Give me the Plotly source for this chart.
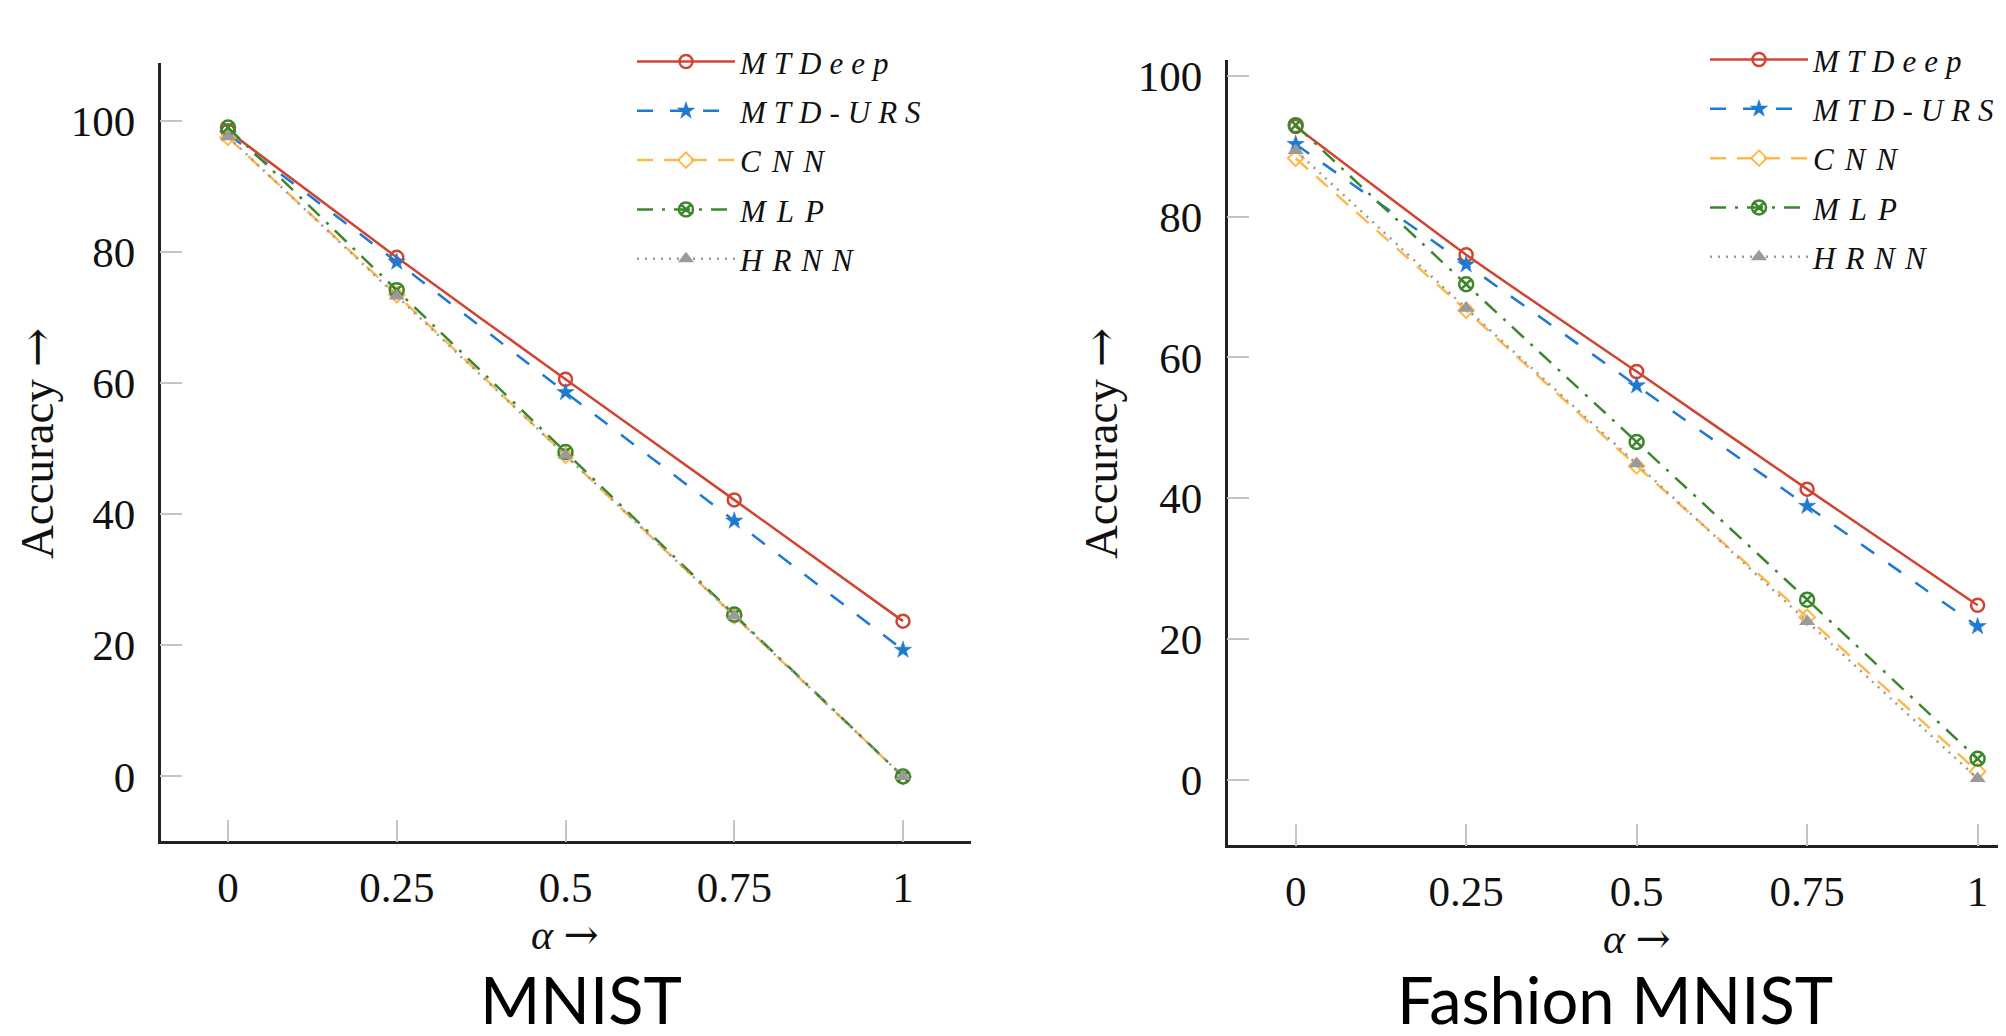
import plotly.graph_objects as go

# ---------------- data ----------------
alpha = [0, 0.25, 0.5, 0.75, 1]
x_tick_vals = [0, 0.25, 0.5, 0.75, 1]
x_tick_text = ["0", "0.25", "0.5", "0.75", "1"]
y_tick_vals = [0, 20, 40, 60, 80, 100]
y_tick_text = ["0", "20", "40", "60", "80", "100"]

series_names = ["MTDeep", "MTD-URS", "CNN", "MLP", "HRNN"]

# MNIST
mnist_mtdeep = [98.5, 79.2, 60.6, 42.2, 23.7]
mnist_mtdurs = [98.0, 78.5, 58.6, 39.0, 19.3]
mnist_cnn = [97.5, 73.5, 49.0, 24.5, 0.0]
mnist_mlp = [99.0, 74.2, 49.5, 24.7, 0.0]
mnist_hrnn = [97.6, 73.3, 49.0, 24.5, 0.0]

# Fashion MNIST
fashion_mtdeep = [92.8, 74.6, 58.0, 41.3, 24.8]
fashion_mtdurs = [90.3, 73.2, 56.0, 38.9, 21.8]
fashion_cnn = [88.3, 66.7, 44.6, 23.1, 1.2]
fashion_mlp = [93.0, 70.4, 48.0, 25.6, 3.0]
fashion_hrnn = [89.4, 67.0, 44.9, 22.5, 0.2]

panel_titles = ["MNIST", "Fashion MNIST"]
ARROW = '<span style="font-family:DejaVu Serif">→</span>'
x_title = "<i>α</i> " + ARROW
y_title = "Accuracy " + ARROW

# ---------------- styles ----------------
colors = ["#d24432", "#1f78d1", "#ffb84a", "#3c872d", "#9a9a9a"]
dashes = ["solid", "16px,17px", "16px,11px", "16px,9px,3px,9px", "2px,6px"]
symbols = ["circle-open", "star", "diamond-open", "circle-x-open", "triangle-up"]
msizes = [13, 13, 12, 14, 14]
mlw = [2.5, 0.5, 2, 2.5, 0]
spacing = [8, 8, 11, 11, 10]

W, H = 2006, 1036
SERIF = "Liberation Serif, Times New Roman, serif"

fig = go.Figure()

panels = [
    ([mnist_mtdeep, mnist_mtdurs, mnist_cnn, mnist_mlp, mnist_hrnn], "x", "y", "legend"),
    ([fashion_mtdeep, fashion_mtdurs, fashion_cnn, fashion_mlp, fashion_hrnn], "x2", "y2", "legend2"),
]

for pi, (data, xa, ya, leg) in enumerate(panels):
    for i, (name, vals) in enumerate(zip(series_names, data)):
        fig.add_trace(go.Scatter(
            x=alpha, y=vals, xaxis=xa, yaxis=ya,
            mode="lines+markers",
            name='<span style="letter-spacing:%dpx">%s</span>' % (spacing[i], name),
            legend=leg,
            legendgroup="%s_%d" % (leg, i),
            line=dict(color=colors[i], width=2.5, dash=dashes[i], shape="spline", smoothing=0.6),
            marker=dict(symbol=symbols[i], size=msizes[i], color=colors[i],
                        line=dict(color=colors[i], width=mlw[i])),
            hoverinfo="skip",
        ))

def px_x(p):
    return p / W

def px_y(p):
    return 1 - p / H

axis_common = dict(
    showline=True, linecolor="#222222", linewidth=2.5, mirror=False,
    showgrid=False, zeroline=False,
    ticks="inside", ticklen=22, tickwidth=1.5, tickcolor="#c4c4c4",
    tickfont=dict(family=SERIF, size=43, color="#111111"),
)

legend_common = dict(
    xanchor="left", yanchor="top",
    bgcolor="rgba(0,0,0,0)", borderwidth=0, itemwidth=98, tracegroupgap=6,
    font=dict(family=SERIF, size=31, style="italic", color="#111111"),
    itemclick=False, itemdoubleclick=False,
)

fig.update_layout(
    width=W, height=H,
    margin=dict(l=0, r=0, t=0, b=0),
    paper_bgcolor="white", plot_bgcolor="white",
    hovermode=False,
    xaxis=dict(domain=[px_x(152.5), px_x(962.5)], range=[-0.1, 1.1], anchor="y",
               tickvals=x_tick_vals, ticktext=x_tick_text, ticklabelstandoff=6, **axis_common),
    yaxis=dict(domain=[px_y(832), px_y(48)], range=[-9.9, 108.9], anchor="x",
               tickvals=y_tick_vals, ticktext=y_tick_text, ticklabelstandoff=14, **axis_common),
    xaxis2=dict(domain=[px_x(1219.5), 1.0], range=[-0.1, 1.0534], anchor="y2",
                tickvals=x_tick_vals, ticktext=x_tick_text, ticklabelstandoff=6, **axis_common),
    yaxis2=dict(domain=[px_y(836), px_y(45)], range=[-9.3, 102.3], anchor="x2",
                tickvals=y_tick_vals, ticktext=y_tick_text, ticklabelstandoff=14, **axis_common),
    legend=dict(x=px_x(624), y=px_y(20), **legend_common),
    legend2=dict(x=px_x(1697), y=px_y(18), **legend_common),
    showlegend=True,
)

title_font = dict(family=SERIF, size=42, color="#111111")
ytitle_font = dict(family=SERIF, size=47, color="#111111")
annotations = [
    dict(text=x_title, x=px_x(557), y=px_y(926), xref="paper", yref="paper",
         xanchor="center", yanchor="middle", showarrow=False, font=title_font),
    dict(text=x_title, x=px_x(1629), y=px_y(930), xref="paper", yref="paper",
         xanchor="center", yanchor="middle", showarrow=False, font=title_font),
    dict(text=y_title, x=px_x(28), y=px_y(432), xref="paper", yref="paper",
         xanchor="center", yanchor="middle", showarrow=False, textangle=-90, font=ytitle_font),
    dict(text=y_title, x=px_x(1092), y=px_y(432), xref="paper", yref="paper",
         xanchor="center", yanchor="middle", showarrow=False, textangle=-90, font=ytitle_font),
    dict(text=panel_titles[0], x=px_x(573), y=px_y(991), xref="paper", yref="paper",
         xanchor="center", yanchor="middle", showarrow=False,
         font=dict(family="Lato, Open Sans, sans-serif", size=65, color="#000000")),
    dict(text=panel_titles[1], x=px_x(1607), y=px_y(991), xref="paper", yref="paper",
         xanchor="center", yanchor="middle", showarrow=False,
         font=dict(family="Lato, Open Sans, sans-serif", size=65, color="#000000")),
]
fig.update_layout(annotations=annotations)

fig.write_html("out.html")
